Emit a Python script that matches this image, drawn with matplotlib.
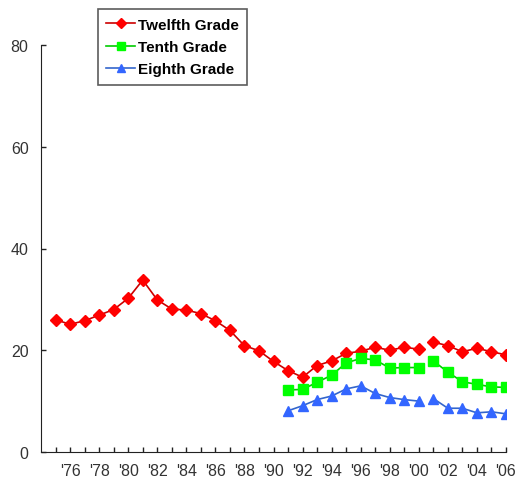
import matplotlib
matplotlib.use("Agg")
import matplotlib.pyplot as plt
import numpy as np

plt.rcParams['font.family'] = ['Liberation Sans', 'DejaVu Sans']

# data
years_12 = list(range(1975, 2007))
twelfth = [26.0, 25.1, 25.8, 26.9, 28.0, 30.2, 33.8, 29.9, 28.1, 27.9, 27.2, 25.8,
           23.9, 20.9, 19.9, 17.8, 16.0, 14.7, 17.0, 17.9, 19.4, 19.8, 20.6, 20.0,
           20.6, 20.2, 21.6, 20.9, 19.7, 20.4, 19.7, 19.1]
years_lo = list(range(1991, 2007))
tenth = [12.2, 12.3, 13.7, 15.1, 17.5, 18.4, 18.1, 16.5, 16.6, 16.6,
         17.9, 15.7, 13.8, 13.3, 12.8, 12.7]
eighth = [8.1, 9.1, 10.3, 11.0, 12.4, 13.0, 11.5, 10.7, 10.3, 10.0,
          10.5, 8.6, 8.6, 7.7, 7.9, 7.5]
break_year = 2000  # line is broken between 2000 and 2001

series = [
    ("Twelfth Grade", years_12, twelfth, "D", "#ff0000", "#cc0000", 6),
    ("Tenth Grade", years_lo, tenth, "s", "#00ff00", "#00cc00", 7),
    ("Eighth Grade", years_lo, eighth, "^", "#3366ff", "#3366cc", 7.5),
]

fig = plt.figure(figsize=(5.19, 4.85), dpi=100)
ax = fig.add_axes([41 / 519, 32 / 485, 465 / 519, 407 / 485])

for name, xs, ys, mk, mc, lc, ms in series:
    xs = np.array(xs)
    ys = np.array(ys)
    first = xs <= break_year
    for i, part in enumerate([first, ~first]):
        ax.plot(xs[part], ys[part], color=lc, lw=1.2, marker=mk, ms=ms,
                mfc=mc, mec=mc, label=name if i == 0 else None)

ax.set_xlim(1974, 2006)
ax.set_ylim(0, 80)
ax.set_yticks([0, 20, 40, 60, 80])
ax.set_xticks(range(1975, 2007))
ax.set_xticklabels(["'%02d" % (y % 100) if y % 2 == 0 else "" for y in range(1975, 2007)])
ax.tick_params(axis='both', direction='in', labelsize=11.5, labelcolor='#333333',
               color='#222222', length=3.5, width=1)
ax.tick_params(axis='x', pad=8)
ax.tick_params(axis='y', pad=9)
for s in ['top', 'right']:
    ax.spines[s].set_visible(False)
for s in ['left', 'bottom']:
    ax.spines[s].set_color('#222222')

leg = ax.legend(loc='upper left', bbox_to_anchor=(57 / 465, 1.088), frameon=True,
                fancybox=False, edgecolor='#333333', handlelength=1.9,
                borderpad=0.55, labelspacing=0.55, handletextpad=0.15,
                borderaxespad=0, markerscale=0.85,
                prop={'weight': 'bold', 'size': 11})
leg.get_frame().set_linewidth(1.2)

fig.savefig("out.png", dpi=100)
